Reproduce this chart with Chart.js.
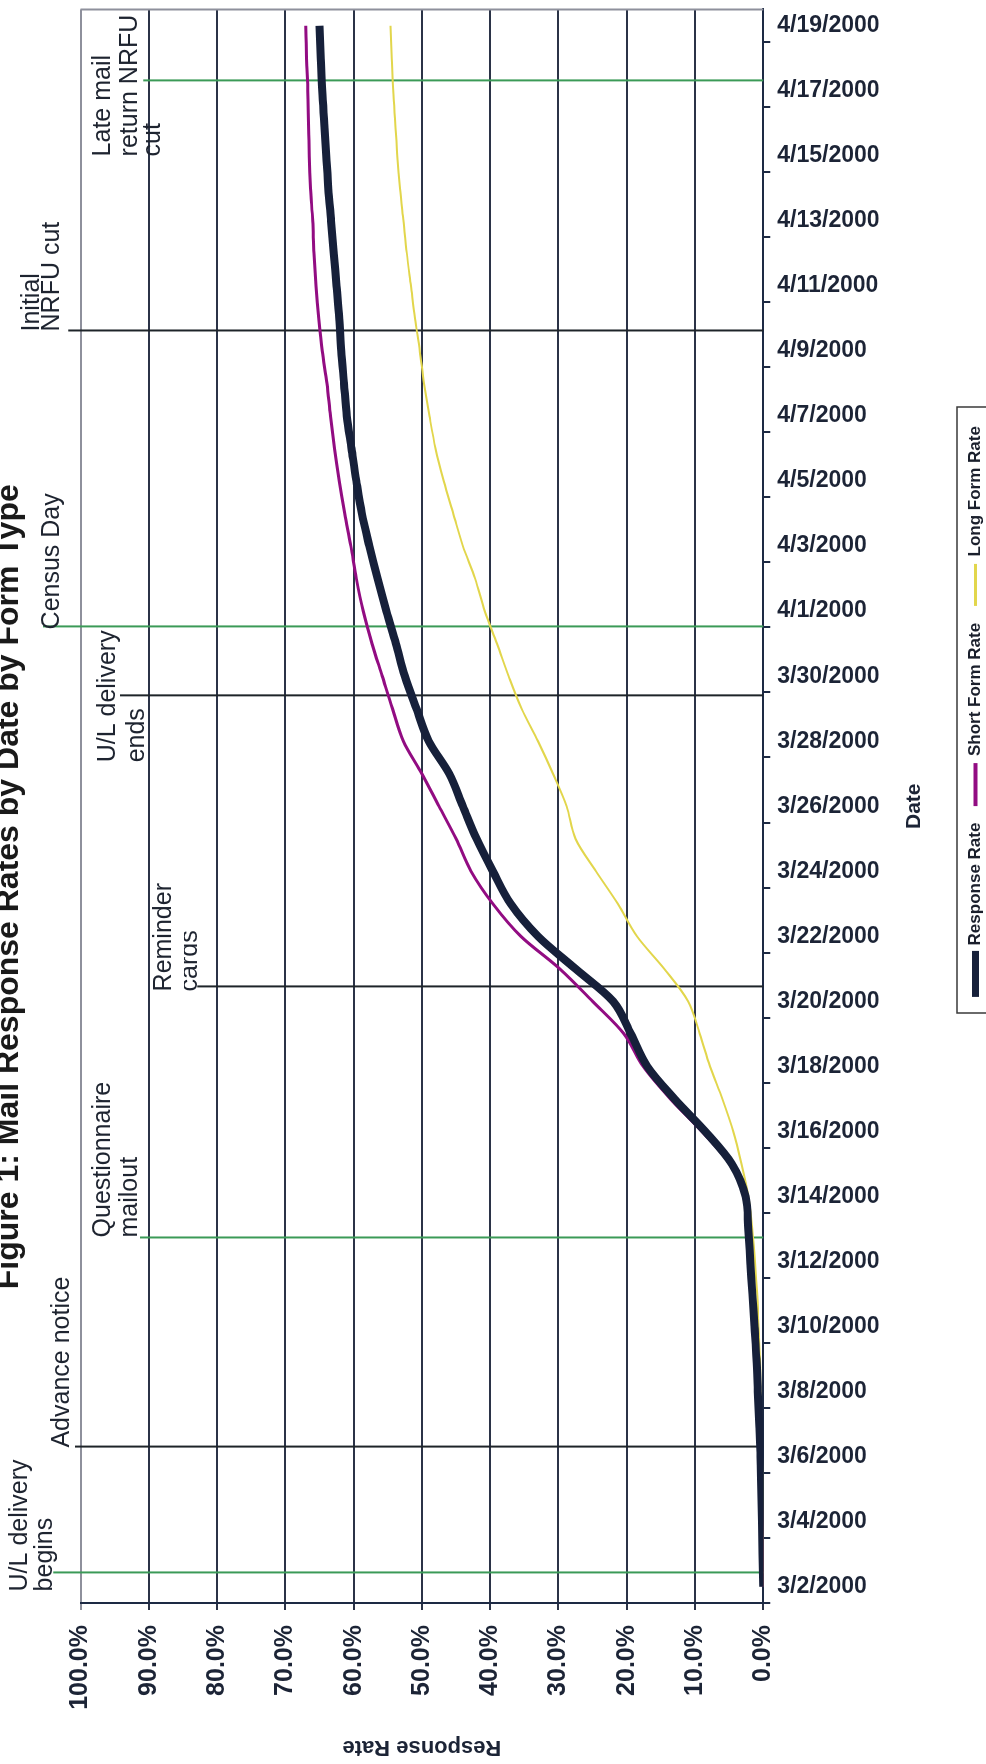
<!DOCTYPE html>
<html>
<head>
<meta charset="utf-8">
<script src="https://cdn.jsdelivr.net/npm/chart.js@4.4.1/dist/chart.umd.min.js"></script>
<style>
html,body{margin:0;padding:0;background:#fff;overflow:hidden;width:986px;height:1764px;}
#wrap{position:absolute;left:0;top:0;width:1764px;height:996px;transform-origin:0 0;transform:translate(-10px,1764px) rotate(-90deg);background:#fff;}
canvas{display:block;}
</style>
</head>
<body>
<div id="wrap"><canvas id="c" width="1764" height="996"></canvas></div>
<script>
// ---------- data ----------
const chartTitle = 'Figure 1: Mail Response Rates by Date by Form Type';
const dates = [
  '3/2/2000','3/3/2000','3/4/2000','3/5/2000','3/6/2000','3/7/2000','3/8/2000','3/9/2000','3/10/2000','3/11/2000',
  '3/12/2000','3/13/2000','3/14/2000','3/15/2000','3/16/2000','3/17/2000','3/18/2000','3/19/2000','3/20/2000','3/21/2000',
  '3/22/2000','3/23/2000','3/24/2000','3/25/2000','3/26/2000','3/27/2000','3/28/2000','3/29/2000','3/30/2000','3/31/2000',
  '4/1/2000','4/2/2000','4/3/2000','4/4/2000','4/5/2000','4/6/2000','4/7/2000','4/8/2000','4/9/2000','4/10/2000',
  '4/11/2000','4/12/2000','4/13/2000','4/14/2000','4/15/2000','4/16/2000','4/17/2000','4/18/2000','4/19/2000'
];
const responseRate = [
  0.0,0.1,0.2,0.3,0.4,0.6,0.8,1.0,1.3,1.6,
  1.9,2.2,2.6,4.6,8.5,13.0,17.0,19.4,22.0,27.5,
  33.0,37.0,39.6,42.0,44.0,46.0,49.0,50.8,52.5,53.8,
  55.2,56.5,57.7,58.8,59.6,60.3,61.0,61.4,61.8,62.1,
  62.5,62.9,63.3,63.7,64.0,64.3,64.6,64.8,65.0
];
const shortFormRate = [
  0.0,0.1,0.2,0.3,0.4,0.6,0.8,1.0,1.3,1.6,
  1.9,2.2,2.7,4.9,9.0,13.6,17.6,20.4,25.0,29.8,
  35.5,39.6,42.8,45.0,47.5,50.0,52.7,54.3,55.8,57.3,
  58.6,59.6,60.4,61.3,62.1,62.8,63.4,63.9,64.6,65.1,
  65.5,65.8,66.0,66.3,66.5,66.6,66.7,66.9,67.0
];
const longFormRate = [
  0.0,0.0,0.1,0.1,0.2,0.3,0.4,0.5,0.7,0.9,
  1.2,1.6,2.2,3.2,4.4,6.0,7.8,9.3,11.0,14.5,
  18.5,21.3,24.5,27.5,28.8,30.8,33.0,35.4,37.3,39.0,
  40.8,42.2,44.0,45.4,46.8,48.0,48.9,49.7,50.3,51.0,
  51.6,52.2,52.7,53.2,53.6,53.9,54.2,54.4,54.6
];
const seriesNames = ['Response Rate','Short Form Rate','Long Form Rate'];
// event markers: position in days from 3/2/2000 (0 = 3/2) and top of the marker line (in %)
const eventNames = ['U/L delivery begins','Advance notice','Questionnaire mailout','Reminder cards',
                    'U/L delivery ends','Census Day','Initial NRFU cut','Late mail return NRFU cut'];
const eventPos = [0.44, 4.31, 10.74, 18.46, 27.41, 29.53, 38.63, 46.32];
const eventTop = [104.0, 100.8, 91.3, 82.9, 94.2, 105.5, 101.8, 90.8];
const eventLines = [['U/L delivery','begins'],['Advance notice'],['Questionnaire','mailout'],['Reminder','cards'],
                    ['U/L delivery','ends'],['Census Day'],['Initial','NRFU cut'],['Late mail','return NRFU','cut']];
const yTicks = [0,10,20,30,40,50,60,70,80,90,100];

// ---------- styles / layout ----------
const FONT = "'Liberation Sans', Arial, Helvetica, sans-serif";
const GREEN = '#3b9a57', BLACK = '#1e2429';
const eventColor = [GREEN, BLACK, GREEN, BLACK, BLACK, GREEN, BLACK, GREEN];
const labelDx = [-19, -1, 0, -5, -67, -3, -1, -76];
const labelBase = [[37,62],[79],[120,147],[181,207],[125,154],[69],[49,69],[120,147,170]];
const labelClipTop = [[null,null],[null],[null,null],[null,194],[null,null],[null],[null,null],[null,null,null]];
const seriesColors = ['#16203a', '#920c82', '#e2d64c'];
const seriesWidths = [8, 3, 2];
const legendThick = [6, 3, 2];
const legendFrame = {left: 751, right: 1357, top: 967};
const GRID = '#2b3347';
const LEGEND_FONT = 17, LEGEND_PAD = 18;
const legendHeight = LEGEND_FONT + LEGEND_PAD + 10;

const datasets = [
  {label: seriesNames[0], data: responseRate, borderColor: seriesColors[0], borderWidth: seriesWidths[0], order: 0},
  {label: seriesNames[1], data: shortFormRate, borderColor: seriesColors[1], borderWidth: seriesWidths[1], order: 1},
  {label: seriesNames[2], data: longFormRate, borderColor: seriesColors[2], borderWidth: seriesWidths[2], order: 2}
].map(d => Object.assign(d, {pointRadius: 0, fill: false, cubicInterpolationMode: 'monotone', backgroundColor: d.borderColor, xAxisID: 'x', yAxisID: 'y'}));

eventPos.forEach((p, i) => {
  datasets.push({
    label: eventNames[i], data: [{x: p, y: 0}, {x: p, y: eventTop[i]}],
    xAxisID: 'xe', yAxisID: 'y', borderColor: eventColor[i], borderWidth: 2, pointRadius: 0,
    clip: false, order: 10, isEvent: true
  });
});

const overlay = {
  id: 'overlay',
  beforeDraw(chart) {
    // place the legend row inside its frame (centred on the frame)
    const lg = chart.legend;
    lg.left = legendFrame.left - 60; lg.right = legendFrame.right + 60; lg.width = lg.right - lg.left;
    lg.top = legendFrame.top - (LEGEND_PAD - 10); lg.bottom = lg.top + lg.height;
  },
  afterDraw(chart) {
    const ctx = chart.ctx, ca = chart.chartArea;
    const xs = chart.scales.x, xe = chart.scales.xe;
    ctx.save();
    // plot area right edge
    ctx.strokeStyle = '#8e909c'; ctx.lineWidth = 2;
    ctx.beginPath(); ctx.moveTo(ca.right, ca.top); ctx.lineTo(ca.right, ca.bottom); ctx.stroke();
    // date tick labels (every second category), rotated clockwise
    ctx.font = 'bold 23px ' + FONT; ctx.fillStyle = '#1c2436';
    ctx.textAlign = 'left'; ctx.textBaseline = 'middle';
    dates.forEach((d, i) => {
      if (i % 2) return;
      const px = xs.getPixelForValue(i);
      ctx.save(); ctx.translate(px, xs.top + 14); ctx.rotate(Math.PI / 2); ctx.fillText(xs.getLabelForValue(i), 0, 0); ctx.restore();
    });
    // event labels
    ctx.font = '25px ' + FONT; ctx.fillStyle = '#1e2430'; ctx.textBaseline = 'alphabetic'; ctx.textAlign = 'left';
    eventLines.forEach((lines, i) => {
      const x0 = xe.getPixelForValue(eventPos[i]) + labelDx[i];
      lines.forEach((t, j) => {
        ctx.save();
        if (labelClipTop[i][j] !== null) { ctx.beginPath(); ctx.rect(x0 - 5, labelClipTop[i][j], 400, 60); ctx.clip(); }
        ctx.fillText(t, x0, labelBase[i][j]);
        ctx.restore();
      });
    });
    // legend frame
    ctx.strokeStyle = '#3a3a3a'; ctx.lineWidth = 1.5;
    ctx.strokeRect(legendFrame.left, legendFrame.top, legendFrame.right - legendFrame.left, 60);
    ctx.restore();
  }
};

new Chart(document.getElementById('c'), {
  type: 'line',
  data: {labels: dates, datasets: datasets},
  options: {
    responsive: false, animation: false, devicePixelRatio: 1,
    layout: {padding: {left: 0, right: 9.5, top: 0, bottom: 0}},
    plugins: {
      title: {display: true, text: chartTitle, color: '#1a1a1a',
              font: {family: FONT, size: 32, weight: 'bold'}, padding: {top: 0, bottom: 52.1}},
      legend: {display: true, position: 'bottom', align: 'center',
        labels: {
          font: {family: FONT, size: LEGEND_FONT, weight: 'bold'}, color: '#1a1f2c',
          boxWidth: 40, boxHeight: 1, padding: LEGEND_PAD,
          generateLabels: (chart) => chart.data.datasets.filter(d => !d.isEvent).map((d, i) => ({
            text: d.label, fillStyle: d.borderColor, strokeStyle: d.borderColor, lineWidth: legendThick[i],
            hidden: false, datasetIndex: i, fontColor: '#1a1f2c'
          }))
        }
      },
      tooltip: {enabled: false}
    },
    scales: {
      x: {
        type: 'category', position: 'bottom', offset: true,
        grid: {offset: true, drawOnChartArea: false, drawTicks: true, tickLength: 7, lineWidth: 2,
               color: (c) => (c.index !== undefined && c.index % 2 === 0) ? '#1d2a44' : 'rgba(0,0,0,0)'},
        border: {color: '#1d2a44', width: 2},
        ticks: {display: false, autoSkip: false},
        title: {display: true, text: 'Date', color: '#1c2436', font: {family: FONT, size: 21, weight: 'bold'},
                padding: {top: 0, bottom: 13.9}},
        afterFit: (s) => { s.height = 222.7 - legendHeight; }
      },
      xe: {type: 'linear', display: false, min: -0.5, max: 48.5},
      y: {
        type: 'linear', position: 'left', min: 0, max: 100,
        afterBuildTicks: (s) => { s.ticks = yTicks.map(v => ({value: v})); },
        ticks: {callback: (v) => Number(v).toFixed(1) + '%', color: '#1c2436',
                font: {family: FONT, size: 25, weight: 'bold'}, padding: 15},
        grid: {color: (c) => (c.tick && c.tick.value === 100) ? '#8e909c' : GRID, lineWidth: 2, tickLength: 7},
        border: {color: '#1d2a44', width: 2},
        title: {display: true, text: 'Response Rate', color: '#1c2436', font: {family: FONT, size: 22, weight: 'bold'},
                padding: {top: 3.3, bottom: 0}},
        afterFit: (s) => { s.width = 161; }
      }
    }
  },
  plugins: [overlay]
});
</script>
</body>
</html>
